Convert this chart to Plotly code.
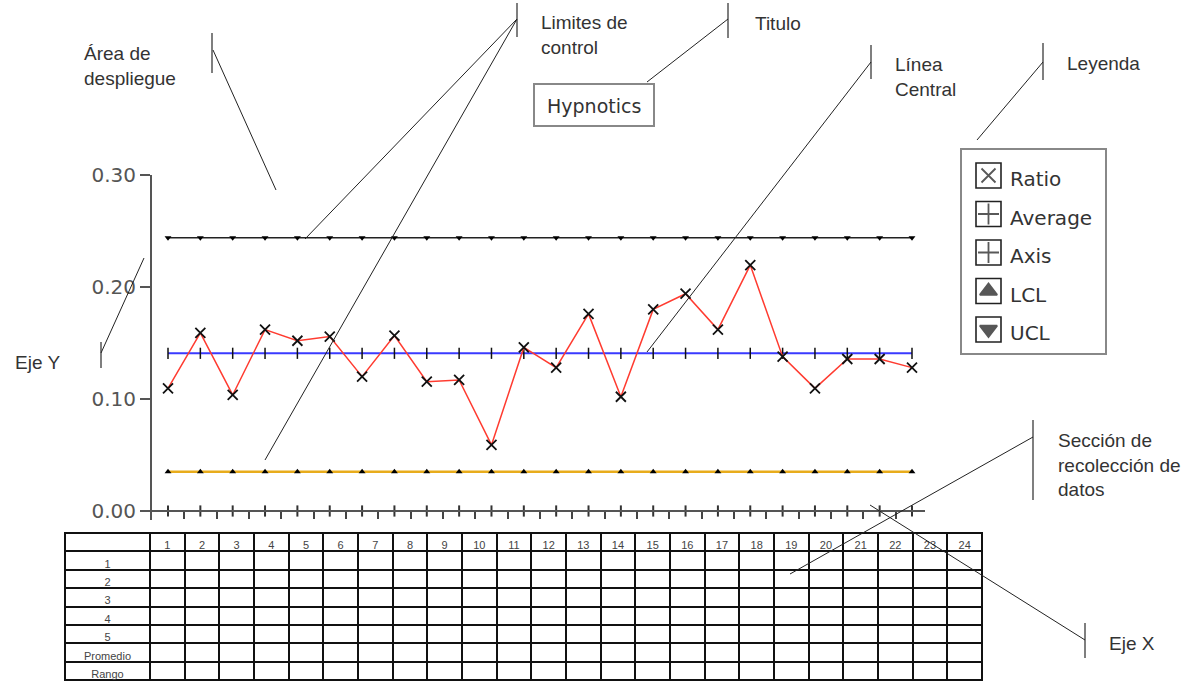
import plotly.graph_objects as go

W, H = 1198, 681

# ---------------- data ----------------
samples = list(range(1, 25))
ratio = [0.1095, 0.159, 0.1036, 0.162, 0.152, 0.1557, 0.120, 0.1566, 0.1155, 0.117,
         0.059, 0.146, 0.128, 0.176, 0.102, 0.180, 0.194, 0.162, 0.2196, 0.1378,
         0.1095, 0.1357, 0.1357, 0.128]
average_value = 0.1408
ucl_value = 0.244
lcl_value = 0.0351
axis_value = 0.0
y_ticks = [0.0, 0.1, 0.2, 0.3]
y_tick_labels = ["0.00", "0.10", "0.20", "0.30"]
legend_labels = ["Ratio", "Average", "Axis", "LCL", "UCL"]
table_header = [""] + [str(i) for i in range(1, 25)]
table_row_labels = ["1", "2", "3", "4", "5", "Promedio", "Rango"]
title_text = "Hypnotics"


def px(x):
    return x / W


def py(y):
    return 1 - y / H


fig = go.Figure()

n = len(samples)
# control limits and center line
fig.add_trace(go.Scatter(x=samples, y=[ucl_value] * n, mode="lines+markers",
                         line=dict(color="#222222", width=1.5),
                         marker=dict(symbol="triangle-down", size=6, color="#000"),
                         showlegend=False, hoverinfo="skip"))
fig.add_trace(go.Scatter(x=samples, y=[lcl_value] * n, mode="lines+markers",
                         line=dict(color="#e8ac1c", width=2.5),
                         marker=dict(symbol="triangle-up", size=6, color="#000"),
                         showlegend=False, hoverinfo="skip"))
fig.add_trace(go.Scatter(x=samples, y=[average_value] * n, mode="lines+markers",
                         line=dict(color="#3a3aff", width=2),
                         marker=dict(symbol="line-ns", size=8, line=dict(color="#111", width=1.5)),
                         showlegend=False, hoverinfo="skip"))
fig.add_trace(go.Scatter(x=samples, y=[axis_value] * n, mode="markers",
                         marker=dict(symbol="line-ns", size=8, line=dict(color="#333", width=2)),
                         showlegend=False, hoverinfo="skip"))
fig.add_trace(go.Scatter(x=samples, y=ratio, mode="lines+markers",
                         line=dict(color="#ff3b30", width=1.5),
                         marker=dict(symbol="x-thin", size=10, line=dict(color="#111", width=1.8)),
                         showlegend=False))

# ---------------- custom legend (own axes) ----------------
leg_x0, leg_x1, leg_y0, leg_y1 = 962, 1105, 150, 353
leg_sym_x = 988.5
leg_first_y, leg_step = 175.5, 38.5
leg_ys = [leg_first_y + leg_step * i for i in range(len(legend_labels))]
fig.add_trace(go.Scatter(x=[leg_sym_x] * len(leg_ys), y=leg_ys, mode="markers",
                         marker=dict(symbol="square-open", size=25, color="#222",
                                     line=dict(width=1.6, color="#222")),
                         xaxis="x2", yaxis="y2", showlegend=False, hoverinfo="skip"))
symbols = ["x-thin-open", "cross-thin-open", "cross-thin-open", "triangle-up", "triangle-down"]
sizes = [14, 15, 15, 15, 15]
fig.add_trace(go.Scatter(x=[leg_sym_x] * len(leg_ys), y=leg_ys, mode="markers",
                         marker=dict(symbol=symbols, size=sizes, color="#111",
                                     line=dict(width=1.8, color="#111")),
                         xaxis="x2", yaxis="y2", showlegend=False, hoverinfo="skip"))

annotations = []
for lab, yy in zip(legend_labels, leg_ys):
    annotations.append(dict(x=1008, y=yy + 4, xref="x2", yref="y2", text=lab, showarrow=False,
                            xanchor="left", yanchor="middle",
                            font=dict(family="DejaVu Sans", size=20, color="#333")))

# ---------------- data collection table ----------------
cell_cols = [table_row_labels] + [[""] * len(table_row_labels) for _ in range(24)]
fig.add_trace(go.Table(
    domain=dict(x=[px(65), px(982)], y=[0, py(533)]),
    columnwidth=[85] + [34.67] * 24,
    header=dict(values=table_header, height=18.4, align="center",
                line=dict(color="#111", width=2), fill=dict(color="white"),
                font=dict(family="Liberation Sans", size=11, color="#444")),
    cells=dict(values=cell_cols, height=18.4, align="center",
               line=dict(color="#111", width=2), fill=dict(color="white"),
               font=dict(family="Liberation Sans", size=11, color="#444")),
))

# ---------------- title box ----------------
shapes = [dict(type="rect", xref="paper", yref="paper", x0=px(534), x1=px(654), y0=py(126), y1=py(84),
               line=dict(color="#888", width=2))]
annotations.append(dict(x=px(594), y=py(106), xref="paper", yref="paper", text=title_text,
                        showarrow=False, xanchor="center", yanchor="middle",
                        font=dict(family="DejaVu Sans", size=19, color="#333")))

# ---------------- callouts ----------------
callouts = [
    ("Área de<br>despliegue", 82, 66, (212, 33, 73), [((213, 50), (276, 190))]),
    ("Limites de<br>control", 539, 35, (517, 3, 37), [((517, 19), (305, 239)), ((517, 19), (265, 460))]),
    ("Titulo", 753, 23, (728, 3, 38), [((728, 19), (647, 82))]),
    ("Línea<br>Central", 893, 77, (871, 45, 79), [((871, 62), (647, 352))]),
    ("Leyenda", 1065, 64, (1043, 43, 80), [((1043, 62), (977, 140))]),
    ("Eje Y", 13, 362, (101, 342, 368), [((101, 353), (144, 258))]),
    ("Sección de<br>recolección de<br>datos", 1056, 465, (1033, 420, 500), [((1033, 437), (790, 574))]),
    ("Eje X", 1107, 643, (1085, 623, 658), [((1085, 640), (870, 505))]),
]
for text, tx, ty, bar, leads in callouts:
    annotations.append(dict(x=px(tx), y=py(ty), xref="paper", yref="paper", text=text,
                            showarrow=False, xanchor="left", yanchor="middle", align="left",
                            font=dict(family="Liberation Sans", size=19, color="#333")))
    bx, by0, by1 = bar
    shapes.append(dict(type="line", xref="paper", yref="paper", x0=px(bx), x1=px(bx),
                       y0=py(by0), y1=py(by1), line=dict(color="#555", width=1.5)))
    for (x0, y0), (x1, y1) in leads:
        shapes.append(dict(type="line", xref="paper", yref="paper", x0=px(x0), y0=py(y0),
                           x1=px(x1), y1=py(y1), line=dict(color="#222", width=1)))

x_minor = [s + 0.5 for s in samples[:-1]]

fig.update_layout(
    width=W, height=H,
    margin=dict(l=0, r=0, t=0, b=0, pad=0, autoexpand=False),
    paper_bgcolor="white", plot_bgcolor="rgba(0,0,0,0)",
    showlegend=False,
    xaxis=dict(domain=[px(152), px(925)], range=[0.5054, 24.402], anchor="free", position=py(511),
               showline=True, linecolor="#555", linewidth=2, ticks="outside", tickvals=x_minor,
               ticklen=7, tickwidth=1.5, tickcolor="#444", showticklabels=False,
               showgrid=False, zeroline=False, automargin=False),
    yaxis=dict(domain=[py(520), py(175)], range=[-0.00804, 0.30], anchor="x",
               showline=True, linecolor="#555", linewidth=2, ticks="outside", ticklen=10,
               tickwidth=2, tickcolor="#555", tickvals=y_ticks, ticktext=y_tick_labels,
               tickfont=dict(family="DejaVu Sans", size=20, color="#555"),
               showgrid=False, zeroline=False, automargin=False),
    xaxis2=dict(domain=[px(leg_x0), px(leg_x1)], range=[leg_x0, leg_x1], anchor="y2",
                showline=True, mirror=True, linecolor="#888", linewidth=2, showticklabels=False,
                ticks="", showgrid=False, zeroline=False, automargin=False),
    yaxis2=dict(domain=[py(leg_y1), py(leg_y0)], range=[leg_y1, leg_y0], anchor="x2",
                showline=True, mirror=True, linecolor="#888", linewidth=2, showticklabels=False,
                ticks="", showgrid=False, zeroline=False, automargin=False),
    shapes=shapes,
    annotations=annotations,
)

fig.write_html("out.html", config={"displayModeBar": False})

# remove the browser's default page margin so the figure sits at the window's corner
with open("out.html", "r", encoding="utf-8") as f:
    html = f.read()
html = html.replace("<head>", "<head><style>html,body{margin:0;padding:0;overflow:hidden;}</style>", 1)
with open("out.html", "w", encoding="utf-8") as f:
    f.write(html)
